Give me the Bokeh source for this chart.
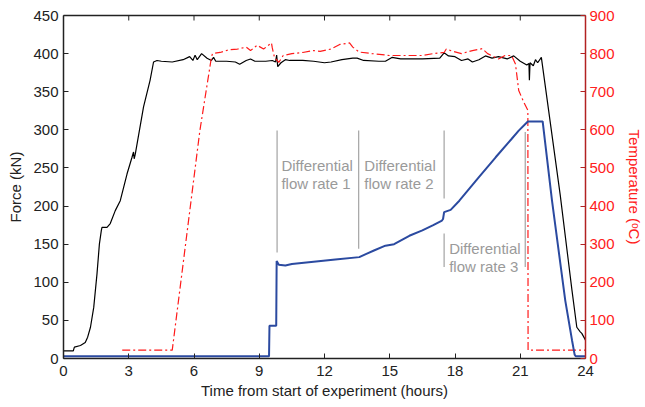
import math
from bokeh.plotting import figure
from bokeh.models import Range1d, LinearAxis, FixedTicker, ColumnDataSource
from bokeh.core.properties import value
from bokeh.embed import file_html
from bokeh.resources import INLINE

# ---- data ----
force_t = [0, 0.45, 0.5, 0.78, 1.0, 1.11, 1.24, 1.39, 1.54, 1.65, 1.74, 1.77, 2.0, 2.15, 2.38, 2.61,
           2.92, 3.15, 3.22, 3.25, 3.3, 3.68, 3.98, 4.14, 4.3, 4.5, 5.0, 5.5, 5.8, 5.95, 6.05, 6.15,
           6.35, 6.6, 6.8, 6.9, 7.0, 7.5, 7.9, 8.1, 8.4, 8.6, 8.8, 9.3, 9.6, 9.75, 9.8, 9.85, 10.0,
           10.2, 10.4, 11.0, 11.5, 12.0, 12.3, 12.8, 13.3, 13.5, 13.8, 14.5, 14.8, 15.1, 15.5, 16.5,
           17.3, 17.5, 17.7, 18.0, 18.3, 18.6, 18.8, 19.1, 19.4, 19.7, 20.0, 20.4, 20.7, 21.0, 21.3,
           21.4, 21.42, 21.45, 21.6, 21.7, 21.8, 21.97, 22.84, 23.38, 23.6, 23.76, 23.83, 24.0]
force_kn = [10, 10, 15, 17, 21, 28, 41, 67, 111, 150, 168, 172, 172, 177, 194, 207,
            242, 264, 271, 262, 268, 330, 365, 389, 391, 390, 389, 392, 396, 391, 398, 392,
            400, 394, 391, 395, 390, 390, 389, 386, 391, 393, 390, 390, 391, 389, 398, 383, 388,
            392, 391, 391, 390, 388, 389, 392, 394, 394, 391, 390, 390, 395, 393, 393,
            394, 401, 397, 396, 391, 393, 389, 392, 397, 394, 396, 393, 397, 390, 385,
            387, 365, 388, 384, 392, 388, 395, 214, 89, 41, 35, 33, 24]

flow_t = [0, 9.45, 9.47, 9.78, 9.8, 9.9, 10.2, 10.5, 11.5, 12.5, 13.6, 13.9, 14.3, 14.8, 15.2,
          15.9, 16.5, 17.0, 17.4, 17.45, 17.5, 17.8, 18.2, 19.1, 19.87, 20.6, 20.93, 21.35,
          22.03, 22.46, 23.07, 23.38, 23.5, 23.55, 24.0]
flow_kn = [3, 3, 43, 43, 128, 123, 122, 124, 127, 130, 133, 137, 142, 148, 150,
           161, 168, 175, 181, 183, 192, 195, 207, 238, 264, 288, 299, 311,
           311, 207, 76, 24, 5, 3, 3]

temp_t = [2.7, 5.0, 6.27, 6.8, 6.85, 7.2, 7.6, 8.0, 8.4, 8.6, 8.9, 9.2, 9.56, 9.6, 9.7, 9.9,
          10.1, 10.5, 11.0, 11.5, 11.8, 12.3, 12.7, 13.15, 13.3, 13.6, 14.2, 15.0, 16.0, 16.5,
          17.0, 17.5, 17.6, 17.9, 18.3, 18.8, 19.25, 19.5, 20.0, 20.3, 20.6, 20.78, 20.93,
          21.16, 21.35, 21.36, 24.0]
temp_c = [22, 22, 598, 790, 800, 803, 810, 812, 817, 808, 822, 812, 828, 815, 790, 777,
          795, 800, 803, 808, 806, 812, 824, 828, 817, 804, 800, 795, 795, 795,
          800, 803, 812, 806, 800, 808, 813, 800, 786, 795, 795, 773, 703,
          673, 651, 22, 22]

# annotation marker lines (time, force from, force to)
mark_t = [9.82, 13.57, 17.5, 17.5, 21.23]
mark_y0 = [139, 144, 210, 120, 120]
mark_y1 = [299, 299, 299, 164, 297]

label_t = [10.02, 10.02, 13.83, 13.83, 17.73, 17.73]
label_y = [253, 230, 253, 230, 144, 121]
label_txt = ["Differential", "flow rate 1", "Differential", "flow rate 2",
             "Differential", "flow rate 3"]

x_ticks = [0, 3, 6, 9, 12, 15, 18, 21, 24]
y_ticks = [0, 50, 100, 150, 200, 250, 300, 350, 400, 450]
t_ticks = [0, 100, 200, 300, 400, 500, 600, 700, 800, 900]

FONT = "Liberation Sans"

p = figure(width=645, height=407, output_backend="svg", toolbar_location=None,
           x_range=Range1d(0, 24), y_range=Range1d(0, 450),
           min_border_left=63, min_border_right=58, min_border_top=15, min_border_bottom=49)
p.outline_line_color = None
p.xgrid.visible = False
p.ygrid.visible = False
p.extra_y_ranges = {"temp": Range1d(0, 900)}

def style_axis(ax, color="#222222", label_color="#222222"):
    ax.axis_line_color = color
    ax.axis_line_width = 1.5
    ax.major_tick_line_color = color
    ax.major_tick_in = 5
    ax.major_tick_out = 0
    ax.minor_tick_line_color = None
    ax.major_label_text_font = FONT
    ax.major_label_text_font_size = "15px"
    ax.major_label_text_color = label_color
    ax.axis_label_text_font = FONT
    ax.axis_label_text_font_size = "15px"
    ax.axis_label_text_font_style = "normal"
    ax.axis_label_text_color = label_color

p.xaxis.ticker = FixedTicker(ticks=x_ticks)
p.yaxis.ticker = FixedTicker(ticks=y_ticks)
style_axis(p.xaxis[0])
style_axis(p.yaxis[0])
p.xaxis.axis_label = "Time from start of experiment (hours)"
p.yaxis.axis_label = "Force (kN)"
p.xaxis.major_label_standoff = 7
p.xaxis.axis_label_standoff = 3
p.yaxis.major_label_standoff = 5
p.yaxis.axis_label_standoff = 6

# top frame line (no ticks/labels on the axis itself)
top = LinearAxis(ticker=FixedTicker(ticks=[]))
style_axis(top)
p.add_layout(top, "above")
# small inward tick marks along the top edge
p.ray(x=x_ticks, y=[450] * len(x_ticks), length=5, length_units="screen",
      angle=-math.pi / 2, line_color="#222222", line_width=1)

right = LinearAxis(y_range_name="temp", ticker=FixedTicker(ticks=t_ticks),
                   axis_label="Temperature (\u1d52C)")
style_axis(right, color="#b22222", label_color="#ff2020")
right.major_label_standoff = 4
right.axis_label_standoff = 8
p.add_layout(right, "right")

p.line(force_t, force_kn, line_color="black", line_width=1.2)
p.line(temp_t, temp_c, y_range_name="temp", line_color="#ff1a1a", line_width=1.2,
       line_dash="8 3 2 3")
p.line(flow_t, flow_kn, line_color="#2b4aa0", line_width=2)

p.segment(x0=mark_t, y0=mark_y0, x1=mark_t, y1=mark_y1, line_color="#aaaaaa", line_width=1.3)
src = ColumnDataSource(dict(x=label_t, y=label_y, t=label_txt))
p.text(x="x", y="y", text="t", source=src, text_font=value(FONT), text_font_size="15px",
       text_color="#9a9a9a", text_baseline="alphabetic", text_align="left")

open("out.html", "w").write(file_html(p, INLINE))
